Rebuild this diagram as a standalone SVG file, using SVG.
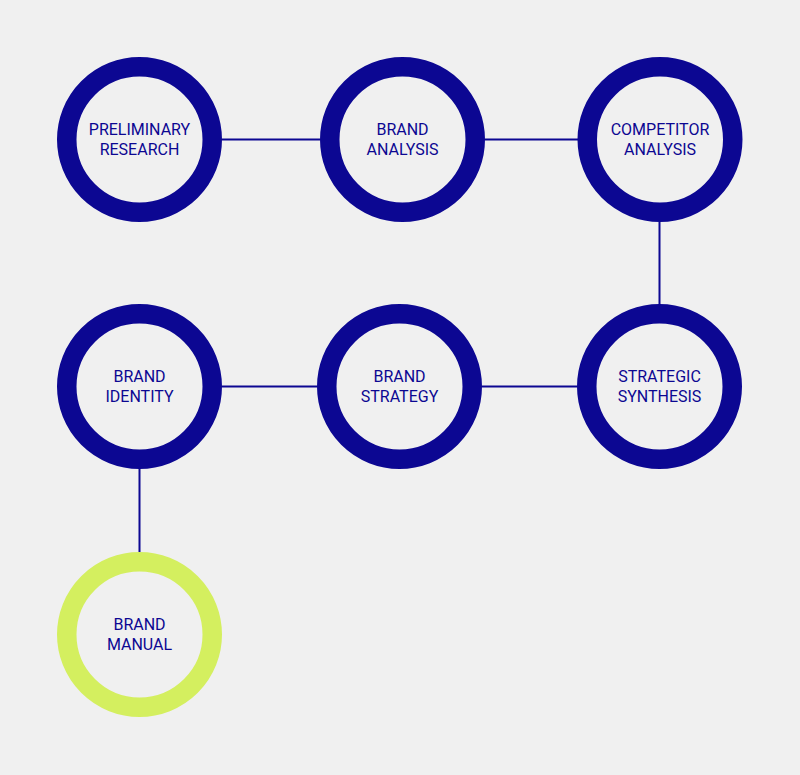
<svg xmlns="http://www.w3.org/2000/svg" width="800" height="775" viewBox="0 0 800 775">
<style>
.ring{fill:none;stroke:#0c0792;stroke-width:19.5}
.ring.last{stroke:#d4ef5f}
.lbl{font-family:Roboto,"Liberation Sans",sans-serif;font-size:16px;fill:#0c0792;text-anchor:middle}
.conn line{stroke:#0c0792;stroke-width:2}
</style>
<rect width="800" height="775" fill="#f0f0f0"/>
<g class="conn">
<line x1="222" y1="139.5" x2="320" y2="139.5"/>
<line x1="485" y1="139.5" x2="578" y2="139.5"/>
<line x1="659.5" y1="222" x2="659.5" y2="304"/>
<line x1="222" y1="386.5" x2="317" y2="386.5"/>
<line x1="482" y1="386.5" x2="577" y2="386.5"/>
<line x1="139.5" y1="469" x2="139.5" y2="552"/>
</g>
<g id="preliminary-research"><circle class="ring" cx="139.5" cy="139.5" r="72.75"/><text class="lbl" x="139.5" y="135">PRELIMINARY</text><text class="lbl" x="139.5" y="155">RESEARCH</text></g>
<g id="brand-analysis"><circle class="ring" cx="402.5" cy="139.5" r="72.75"/><text class="lbl" x="402.5" y="135">BRAND</text><text class="lbl" x="402.5" y="155">ANALYSIS</text></g>
<g id="competitor-analysis"><circle class="ring" cx="660" cy="139.5" r="72.75"/><text class="lbl" x="660" y="135">COMPETITOR</text><text class="lbl" x="660" y="155">ANALYSIS</text></g>
<g id="brand-identity"><circle class="ring" cx="139.5" cy="386.5" r="72.75"/><text class="lbl" x="139.5" y="382">BRAND</text><text class="lbl" x="139.5" y="402">IDENTITY</text></g>
<g id="brand-strategy"><circle class="ring" cx="399.5" cy="386.5" r="72.75"/><text class="lbl" x="399.5" y="382">BRAND</text><text class="lbl" x="399.5" y="402">STRATEGY</text></g>
<g id="strategic-synthesis"><circle class="ring" cx="659.5" cy="386.5" r="72.75"/><text class="lbl" x="659.5" y="382">STRATEGIC</text><text class="lbl" x="659.5" y="402">SYNTHESIS</text></g>
<g id="brand-manual"><circle class="ring last" cx="139.5" cy="634.5" r="72.75"/><text class="lbl" x="139.5" y="630">BRAND</text><text class="lbl" x="139.5" y="650">MANUAL</text></g>
</svg>
